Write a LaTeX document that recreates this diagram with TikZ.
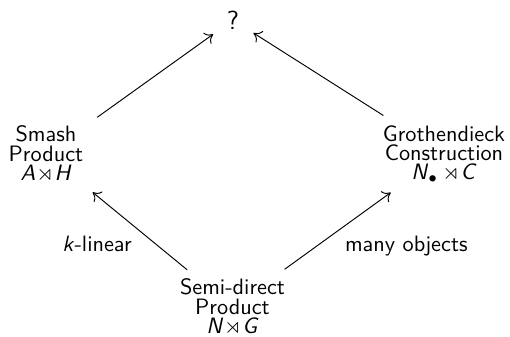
\documentclass[tikz,border=0pt]{standalone}
\usepackage{amssymb}
\usetikzlibrary{arrows.meta}
\newcommand{\sx}{\hspace{0.04em}$\rtimes$\hspace{0.04em}}
\begin{document}
\begin{tikzpicture}[x=0.476pt,y=-0.476pt,
  lbl/.style={font=\sffamily\fontsize{10.6}{9.1}\selectfont, align=center, inner sep=0pt},
  edgelbl/.style={font=\sffamily\fontsize{10.6}{12}\selectfont, inner sep=0pt},
  arr/.style={-{Computer Modern Rightarrow[length=3.6pt,width=6.4pt]}, line width=0.45pt}]
\useasboundingbox (0,0) rectangle (510,336);
\node[lbl, font=\sffamily\fontsize{12.5}{14}\selectfont] (q) at (233,20) {?};
\node[lbl] (sm) at (46,154) {Smash\\Product\\\textit{A}\sx\textit{H}};
\node[lbl] (gr) at (444,154) {Grothendieck\\Construction\\\textit{N}$_\bullet$\hspace{0.2em}$\rtimes$\hspace{0.04em}\textit{C}};
\node[lbl] (se) at (232.5,307) {Semi-direct\\Product\\\textit{N}\sx\textit{G}};
\draw[arr, shorten <=30pt, shorten >=11.6pt] (sm.center) -- (q.center);
\draw[arr, shorten <=34.2pt, shorten >=11.5pt] (gr.center) -- (q.center);
\draw[arr, shorten <=27.9pt, shorten >=28.7pt] (se.center) -- (sm.center);
\draw[arr, shorten <=30.6pt, shorten >=31.3pt] (se.center) -- (gr.center);
\node[edgelbl, anchor=base west] (kl) at (62,251) {\textit{k}-linear};
\node[edgelbl, anchor=base east] (mo) at (468,251) {many objects};
\end{tikzpicture}
\end{document}
